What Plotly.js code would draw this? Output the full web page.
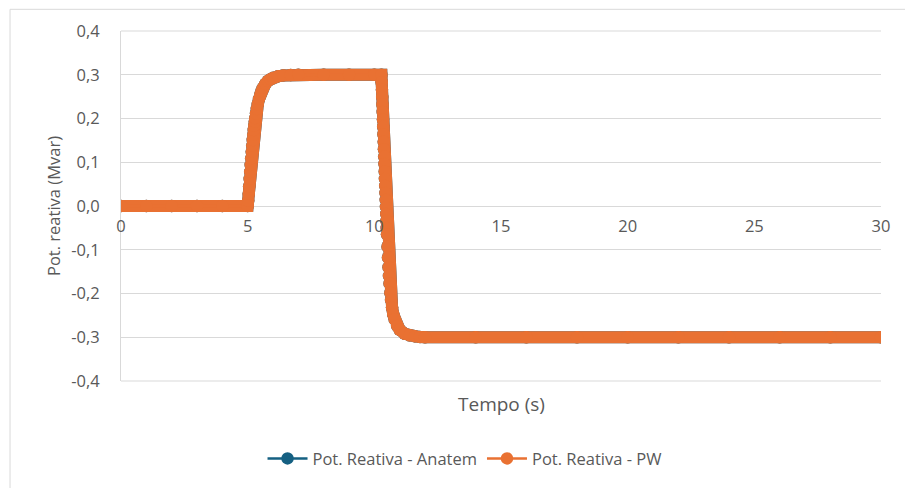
<!DOCTYPE html>
<html>
<head>
<meta charset="utf-8">
<script src="https://cdn.plot.ly/plotly-3.0.1.min.js"></script>
<style>
  html, body { margin: 0; padding: 0; background: #ffffff; }
  #chart { width: 905px; height: 488px; }
</style>
</head>
<body>
<div id="chart"></div>
<script>
// Time samples (s) of the reactive-power response
const tempo = [
  0, 1, 2, 3, 4, 5.00,
  5.02, 5.04, 5.06, 5.08, 5.10, 5.12, 5.14, 5.16, 5.18, 5.20,
  5.22, 5.24, 5.26, 5.28, 5.30, 5.33, 5.36, 5.40, 5.45, 5.50,
  5.55, 5.60, 5.70, 5.80, 5.90, 6.00, 6.20, 6.40, 6.70, 7.00,
  8, 9, 10, 10.28,
  10.29, 10.30, 10.31, 10.32, 10.33, 10.34, 10.35, 10.36, 10.37, 10.38,
  10.39, 10.40, 10.41, 10.42, 10.43, 10.44, 10.45, 10.46, 10.47, 10.48,
  10.49, 10.50, 10.52, 10.54, 10.56, 10.58, 10.60, 10.63, 10.66, 10.70,
  10.75, 10.80, 10.90, 11.00, 11.20, 11.40, 11.60, 11.80, 12.00,
  14, 16, 18, 20, 22, 24, 26, 28, 30
];

// Reactive power (Mvar) – PW simulation
const qPW = [
  0, 0, 0, 0, 0, 0,
  0.012, 0.028, 0.045, 0.062, 0.078, 0.094, 0.109, 0.124, 0.138, 0.151,
  0.163, 0.174, 0.184, 0.193, 0.201, 0.212, 0.222, 0.233, 0.245, 0.255,
  0.263, 0.270, 0.279, 0.286, 0.290, 0.293, 0.2965, 0.2985, 0.2995, 0.300,
  0.300, 0.300, 0.300, 0.300,
  0.283, 0.266, 0.249, 0.232, 0.215, 0.198, 0.181, 0.164, 0.147, 0.130,
  0.113, 0.096, 0.079, 0.062, 0.046, 0.030, 0.014, -0.002, -0.018, -0.034,
  -0.050, -0.065, -0.093, -0.118, -0.140, -0.160, -0.177, -0.198, -0.215, -0.232,
  -0.248, -0.259, -0.274, -0.283, -0.292, -0.296, -0.298, -0.2995, -0.300,
  -0.300, -0.300, -0.300, -0.300, -0.300, -0.300, -0.300, -0.300, -0.300
];

// Reactive power (Mvar) – Anatem simulation (coincides with PW)
const qAnatem = qPW.slice();

// Axis labels
const yTickVals = [-0.4, -0.3, -0.2, -0.1, 0, 0.1, 0.2, 0.3, 0.4];
const yTickText = ['-0,4', '-0,3', '-0,2', '-0,1', '0,0', '0,1', '0,2', '0,3', '0,4'];
const xTickVals = [0, 5, 10, 15, 20, 25, 30];
const xTickText = ['0', '5', '10', '15', '20', '25', '30'];

const seriesNames = ['Pot. Reativa - Anatem', 'Pot. Reativa - PW'];
const blue = '#156082';
const orange = '#E97132';
const gray = '#595959';
const gridGray = '#d9d9d9';
const font = 'Open Sans, Noto Sans, sans-serif';

const yMin = yTickVals[0];
const yMax = yTickVals[yTickVals.length - 1];

const traces = [
  // wide stroke behind the markers (dense samples merge into a band)
  { x: tempo, y: qAnatem, mode: 'lines', showlegend: false, hoverinfo: 'skip',
    line: { color: blue, width: 12 } },
  { x: tempo, y: qAnatem, mode: 'lines+markers', name: seriesNames[0],
    line: { color: blue, width: 2.5 }, marker: { color: blue, size: 12.5 } },
  { x: tempo, y: qPW, mode: 'lines', showlegend: false, hoverinfo: 'skip',
    line: { color: orange, width: 12 } },
  { x: tempo, y: qPW, mode: 'lines+markers', name: seriesNames[1],
    line: { color: orange, width: 2.5 }, marker: { color: orange, size: 12.5 } }
];

// outermost horizontal gridlines at the ends of the value range
const edgeGrid = [yMin, yMax].map(v => {
  const p = (v - yMin) / (yMax - yMin);
  return {
    type: 'line', xref: 'paper', yref: 'paper', x0: 0, x1: 1, y0: p, y1: p,
    line: { color: gridGray, width: 1 }, layer: 'below'
  };
});

const layout = {
  width: 905,
  height: 488,
  paper_bgcolor: '#ffffff',
  plot_bgcolor: '#ffffff',
  margin: { l: 121, r: 24, t: 31, b: 105 },
  font: { family: font, color: gray, size: 17 },
  showlegend: true,
  legend: {
    orientation: 'h', x: 0.452, xanchor: 'center', y: -0.222, yanchor: 'middle',
    font: { family: font, size: 16.5, color: gray },
    itemwidth: 40, tracegroupgap: 0
  },
  xaxis: {
    range: [0, 30],
    anchor: 'free', position: 0.5,
    tickmode: 'array', tickvals: xTickVals, ticktext: xTickText,
    showgrid: false, zeroline: false, showline: false, ticks: '',
    ticklabelstandoff: 8,
    tickfont: { family: font, size: 16.5, color: gray },
    fixedrange: true
  },
  yaxis: {
    range: [yMin, yMax],
    tickmode: 'array', tickvals: yTickVals, ticktext: yTickText,
    showgrid: true, gridcolor: gridGray, gridwidth: 1,
    zeroline: false, showline: true, linecolor: gridGray, linewidth: 1,
    ticks: '', ticklabelstandoff: 17,
    tickfont: { family: font, size: 16.5, color: gray },
    title: { text: 'Pot. reativa (Mvar)', font: { family: font, size: 16.5, color: gray }, standoff: 6 },
    fixedrange: true
  },
  annotations: [
    { text: 'Tempo (s)', xref: 'paper', yref: 'paper', x: 0.5, y: -0.065,
      xanchor: 'center', yanchor: 'middle', showarrow: false,
      font: { family: font, size: 19, color: gray } }
  ],
  shapes: [
    // chart-area border
    { type: 'rect', xref: 'paper', yref: 'paper',
      x0: -0.146, x1: 1.1, y0: -0.4, y1: 1.062,
      line: { color: gridGray, width: 1 }, fillcolor: 'rgba(0,0,0,0)', layer: 'below' }
  ].concat(edgeGrid)
};

Plotly.newPlot('chart', traces, layout, { displayModeBar: false, staticPlot: true });
</script>
</body>
</html>
